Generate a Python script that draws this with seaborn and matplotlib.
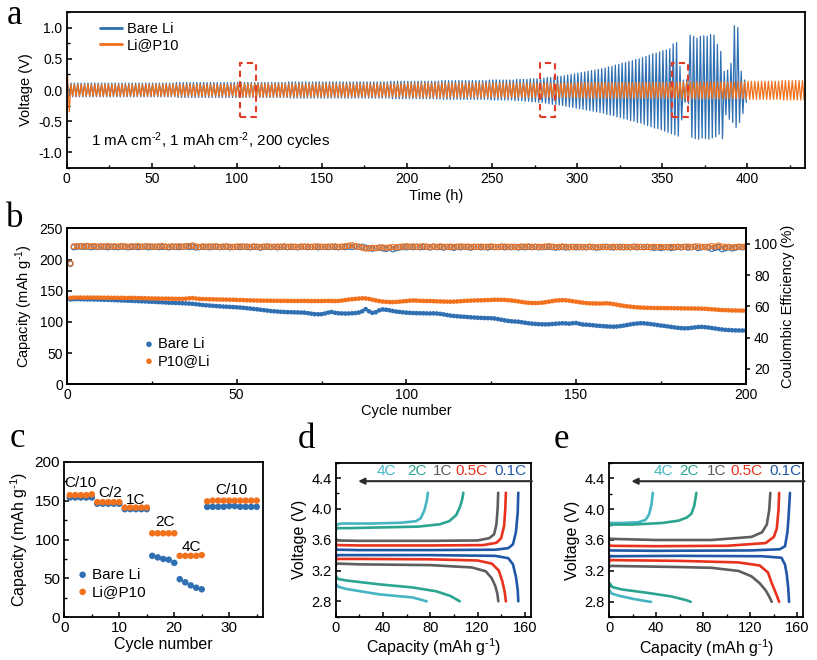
import numpy as np
import matplotlib
matplotlib.use('Agg')
import matplotlib.pyplot as plt
import seaborn as sns
from matplotlib.patches import Rectangle
from matplotlib.ticker import MultipleLocator, FormatStrFormatter

BLUE = '#2f70b3'
ORANGE = '#f2711c'

# ---------------- panel a: peak voltage of each cycle (V), 2 h per cycle ----------------
bare_up = [
    0.10, 0.11, 0.11, 0.11, 0.11, 0.11, 0.11, 0.11, 0.11, 0.11,
    0.11, 0.11, 0.11, 0.11, 0.11, 0.11, 0.11, 0.11, 0.11, 0.11,
    0.11, 0.11, 0.11, 0.11, 0.11, 0.11, 0.11, 0.11, 0.11, 0.11,
    0.11, 0.11, 0.12, 0.12, 0.12, 0.12, 0.12, 0.12, 0.12, 0.12,
    0.12, 0.12, 0.12, 0.12, 0.12, 0.12, 0.12, 0.12, 0.12, 0.12,
    0.12, 0.12, 0.12, 0.12, 0.12, 0.12, 0.12, 0.12, 0.12, 0.12,
    0.12, 0.12, 0.12, 0.12, 0.12, 0.13, 0.13, 0.13, 0.13, 0.13,
    0.13, 0.13, 0.13, 0.13, 0.13, 0.13, 0.13, 0.13, 0.13, 0.13,
    0.13, 0.13, 0.13, 0.13, 0.13, 0.13, 0.13, 0.13, 0.13, 0.13,
    0.13, 0.13, 0.13, 0.13, 0.13, 0.14, 0.14, 0.14, 0.14, 0.14,
    0.14, 0.14, 0.14, 0.14, 0.14, 0.14, 0.14, 0.14, 0.14, 0.14,
    0.15, 0.15, 0.15, 0.15, 0.15, 0.15, 0.15, 0.15, 0.15, 0.15,
    0.15, 0.15, 0.15, 0.15, 0.16, 0.16, 0.16, 0.16, 0.16, 0.16,
    0.16, 0.16, 0.17, 0.17, 0.17, 0.17, 0.18, 0.18, 0.18, 0.19,
    0.19, 0.20, 0.20, 0.21, 0.22, 0.22, 0.23, 0.24, 0.25, 0.26,
    0.27, 0.28, 0.29, 0.30, 0.31, 0.32, 0.33, 0.34, 0.35, 0.37,
    0.38, 0.40, 0.41, 0.43, 0.44, 0.46, 0.47, 0.49, 0.50, 0.52,
    0.54, 0.56, 0.58, 0.59, 0.61, 0.63, 0.64, 0.66, 0.74, 0.76,
    0.38, 0.16, 0.17, 0.88, 0.86, 0.83, 0.86, 0.87, 0.86, 0.89,
    0.88, 0.73, 0.62, 0.30, 0.32, 0.43, 1.03, 1.00, 0.30, 0.16,
]
bare_low = [
    -0.10, -0.11, -0.11, -0.11, -0.11, -0.11, -0.11, -0.11, -0.11, -0.11,
    -0.11, -0.11, -0.11, -0.11, -0.11, -0.11, -0.11, -0.11, -0.11, -0.11,
    -0.11, -0.11, -0.11, -0.11, -0.11, -0.11, -0.11, -0.11, -0.11, -0.11,
    -0.11, -0.11, -0.12, -0.12, -0.12, -0.12, -0.12, -0.12, -0.12, -0.12,
    -0.12, -0.12, -0.12, -0.12, -0.12, -0.12, -0.12, -0.12, -0.12, -0.12,
    -0.12, -0.12, -0.12, -0.12, -0.12, -0.12, -0.12, -0.12, -0.12, -0.12,
    -0.12, -0.12, -0.12, -0.12, -0.12, -0.13, -0.13, -0.13, -0.13, -0.13,
    -0.13, -0.13, -0.13, -0.13, -0.13, -0.13, -0.13, -0.13, -0.13, -0.13,
    -0.13, -0.13, -0.13, -0.13, -0.13, -0.13, -0.13, -0.13, -0.13, -0.13,
    -0.13, -0.13, -0.13, -0.13, -0.13, -0.14, -0.14, -0.14, -0.14, -0.14,
    -0.14, -0.14, -0.14, -0.14, -0.14, -0.14, -0.14, -0.14, -0.14, -0.14,
    -0.15, -0.15, -0.15, -0.15, -0.15, -0.15, -0.15, -0.15, -0.15, -0.15,
    -0.15, -0.15, -0.15, -0.15, -0.16, -0.16, -0.16, -0.16, -0.16, -0.16,
    -0.16, -0.17, -0.17, -0.17, -0.18, -0.18, -0.19, -0.19, -0.20, -0.20,
    -0.21, -0.22, -0.23, -0.23, -0.24, -0.25, -0.26, -0.27, -0.28, -0.29,
    -0.30, -0.31, -0.32, -0.33, -0.34, -0.35, -0.36, -0.37, -0.39, -0.40,
    -0.41, -0.43, -0.44, -0.46, -0.47, -0.49, -0.50, -0.52, -0.53, -0.55,
    -0.57, -0.59, -0.61, -0.62, -0.64, -0.66, -0.68, -0.70, -0.72, -0.74,
    -0.48, -0.20, -0.22, -0.76, -0.78, -0.79, -0.77, -0.78, -0.79, -0.77,
    -0.75, -0.71, -0.78, -0.40, -0.47, -0.52, -0.60, -0.52, -0.38, -0.20,
]
p10_up = [
    0.22, 0.09, 0.09, 0.09, 0.09, 0.09, 0.09, 0.09, 0.09, 0.09,
    0.09, 0.09, 0.09, 0.09, 0.09, 0.09, 0.09, 0.09, 0.09, 0.09,
    0.09, 0.09, 0.09, 0.09, 0.09, 0.09, 0.09, 0.09, 0.09, 0.09,
    0.09, 0.09, 0.09, 0.09, 0.09, 0.09, 0.09, 0.09, 0.09, 0.09,
    0.09, 0.09, 0.09, 0.09, 0.09, 0.09, 0.09, 0.09, 0.09, 0.09,
    0.10, 0.10, 0.10, 0.10, 0.10, 0.10, 0.10, 0.10, 0.10, 0.10,
    0.10, 0.10, 0.10, 0.10, 0.10, 0.10, 0.10, 0.10, 0.10, 0.10,
    0.10, 0.10, 0.10, 0.10, 0.10, 0.10, 0.10, 0.10, 0.10, 0.10,
    0.10, 0.10, 0.10, 0.10, 0.10, 0.10, 0.10, 0.10, 0.10, 0.10,
    0.10, 0.10, 0.10, 0.10, 0.10, 0.10, 0.10, 0.10, 0.10, 0.10,
    0.11, 0.11, 0.11, 0.11, 0.11, 0.11, 0.11, 0.11, 0.11, 0.11,
    0.11, 0.11, 0.11, 0.11, 0.11, 0.11, 0.11, 0.11, 0.11, 0.11,
    0.11, 0.11, 0.11, 0.11, 0.11, 0.11, 0.11, 0.11, 0.11, 0.11,
    0.11, 0.11, 0.11, 0.11, 0.11, 0.11, 0.11, 0.11, 0.11, 0.11,
    0.11, 0.11, 0.11, 0.11, 0.11, 0.11, 0.11, 0.11, 0.11, 0.11,
    0.12, 0.12, 0.12, 0.12, 0.12, 0.12, 0.12, 0.12, 0.12, 0.12,
    0.12, 0.12, 0.12, 0.12, 0.12, 0.12, 0.12, 0.12, 0.12, 0.12,
    0.12, 0.12, 0.12, 0.12, 0.12, 0.12, 0.12, 0.12, 0.12, 0.12,
    0.13, 0.13, 0.13, 0.13, 0.13, 0.13, 0.13, 0.13, 0.13, 0.13,
    0.13, 0.13, 0.13, 0.13, 0.13, 0.13, 0.13, 0.13, 0.13, 0.13,
    0.14, 0.14, 0.14, 0.14, 0.14, 0.14, 0.14, 0.14, 0.14, 0.14,
    0.15, 0.15, 0.15, 0.15, 0.15, 0.15, 0.15,
]
p10_low = [
    -0.35, -0.10, -0.10, -0.10, -0.10, -0.10, -0.10, -0.10, -0.10, -0.10,
    -0.10, -0.10, -0.10, -0.10, -0.10, -0.10, -0.10, -0.10, -0.10, -0.10,
    -0.10, -0.10, -0.10, -0.10, -0.10, -0.10, -0.10, -0.10, -0.10, -0.10,
    -0.10, -0.10, -0.10, -0.10, -0.10, -0.10, -0.10, -0.10, -0.10, -0.10,
    -0.10, -0.10, -0.10, -0.10, -0.10, -0.10, -0.10, -0.10, -0.10, -0.10,
    -0.11, -0.11, -0.11, -0.11, -0.11, -0.11, -0.11, -0.11, -0.11, -0.11,
    -0.11, -0.11, -0.11, -0.11, -0.11, -0.11, -0.11, -0.11, -0.11, -0.11,
    -0.11, -0.11, -0.11, -0.11, -0.11, -0.11, -0.11, -0.11, -0.11, -0.11,
    -0.11, -0.11, -0.11, -0.11, -0.11, -0.11, -0.11, -0.11, -0.11, -0.11,
    -0.11, -0.11, -0.11, -0.11, -0.11, -0.11, -0.11, -0.11, -0.11, -0.11,
    -0.12, -0.12, -0.12, -0.12, -0.12, -0.12, -0.12, -0.12, -0.12, -0.12,
    -0.12, -0.12, -0.12, -0.12, -0.12, -0.12, -0.12, -0.12, -0.12, -0.12,
    -0.12, -0.12, -0.12, -0.12, -0.12, -0.12, -0.12, -0.12, -0.12, -0.12,
    -0.12, -0.12, -0.12, -0.12, -0.12, -0.12, -0.12, -0.12, -0.12, -0.12,
    -0.12, -0.12, -0.12, -0.12, -0.12, -0.12, -0.12, -0.12, -0.12, -0.12,
    -0.13, -0.13, -0.13, -0.13, -0.13, -0.13, -0.13, -0.13, -0.13, -0.13,
    -0.13, -0.13, -0.13, -0.13, -0.13, -0.13, -0.13, -0.13, -0.13, -0.13,
    -0.13, -0.13, -0.13, -0.13, -0.13, -0.13, -0.13, -0.13, -0.13, -0.13,
    -0.14, -0.14, -0.14, -0.14, -0.14, -0.14, -0.14, -0.14, -0.14, -0.14,
    -0.14, -0.14, -0.14, -0.14, -0.14, -0.14, -0.14, -0.14, -0.14, -0.14,
    -0.15, -0.15, -0.15, -0.15, -0.15, -0.15, -0.15, -0.15, -0.15, -0.15,
    -0.16, -0.16, -0.16, -0.16, -0.16, -0.16, -0.16,
]
box_start_h = [102, 278, 356]   # dashed boxes, 9 h wide, +-0.43 V
hours_per_cycle = 2

# ---------------- panel b: cycling at 1C ----------------
bare_cap = [
    136.0, 136.3, 136.5, 136.4, 136.2, 136.0, 136.1, 135.9, 135.8, 135.6,
    135.4, 135.3, 135.1, 134.9, 134.6, 134.4, 134.2, 133.9, 133.7, 133.5,
    133.2, 133.0, 132.8, 132.5, 132.3, 132.0, 131.7, 131.4, 131.1, 130.8,
    130.6, 130.4, 130.2, 129.9, 129.6, 129.3, 129.0, 128.4, 127.8, 127.1,
    126.6, 126.2, 125.8, 125.4, 125.0, 124.6, 124.3, 124.0, 123.7, 123.4,
    123.0, 122.5, 122.0, 121.4, 120.8, 120.2, 119.5, 118.9, 118.2, 117.5,
    117.0, 116.6, 116.2, 115.9, 115.6, 115.5, 115.3, 115.2, 115.0, 114.8,
    114.0, 113.2, 112.4, 112.2, 112.4, 113.5, 115.0, 115.8, 114.6, 113.8,
    113.6, 113.4, 113.5, 113.8, 114.2, 115.0, 117.0, 120.5, 117.0, 114.5,
    115.5, 118.5, 120.0, 119.5, 118.6, 117.5, 116.5, 116.0, 115.3, 114.8,
    114.5, 114.2, 114.0, 113.9, 113.8, 113.6, 113.5, 113.7, 113.4, 112.8,
    112.0, 111.0, 110.1, 109.5, 109.0, 108.6, 108.2, 107.8, 107.4, 107.0,
    106.7, 106.4, 106.2, 106.0, 105.9, 105.5, 104.5, 103.5, 102.5, 101.6,
    101.0, 100.6, 100.3, 99.5, 98.6, 97.8, 97.2, 96.8, 96.4, 96.2,
    96.0, 96.2, 96.6, 97.0, 97.4, 97.8, 97.6, 97.2, 97.9, 98.2,
    97.0, 95.8, 95.5, 95.2, 94.6, 94.0, 93.6, 93.2, 92.8, 92.5,
    92.3, 92.6, 93.2, 94.0, 95.0, 96.0, 96.8, 97.4, 97.9, 97.7,
    97.2, 96.5, 95.8, 95.0, 94.2, 93.5, 92.8, 92.0, 91.2, 90.5,
    90.0, 89.7, 89.9, 90.5, 91.2, 91.8, 92.0, 91.6, 91.0, 90.2,
    89.4, 88.6, 87.9, 87.3, 86.9, 86.6, 86.4, 86.3, 86.2, 86.2,
]
p10_cap = [
    138.5, 138.8, 139.0, 139.0, 138.9, 138.9, 139.0, 138.8, 138.9, 138.8,
    138.7, 138.8, 138.6, 138.7, 138.5, 138.6, 138.4, 138.4, 138.5, 138.3,
    138.2, 138.0, 137.9, 137.7, 137.6, 137.5, 137.4, 137.3, 137.3, 137.2,
    137.1, 137.0, 137.0, 136.9, 137.2, 137.8, 138.2, 137.4, 136.9, 136.6,
    136.5, 136.3, 136.2, 136.0, 135.9, 135.8, 135.7, 135.6, 135.5, 135.3,
    135.1, 134.9, 134.7, 134.5, 134.3, 134.2, 134.1, 134.0, 134.0, 133.9,
    133.8, 133.8, 133.7, 133.7, 133.6, 133.6, 133.5, 133.5, 133.6, 133.6,
    133.5, 133.4, 133.4, 133.5, 133.4, 133.6, 133.6, 133.5, 133.4, 133.6,
    134.2, 135.0, 135.8, 136.4, 136.9, 137.4, 137.8, 137.6, 136.8, 135.6,
    134.5, 133.4, 132.6, 132.1, 131.8, 131.8, 132.0, 132.4, 133.0, 133.5,
    134.0, 134.3, 134.1, 133.8, 133.6, 133.4, 133.5, 133.2, 133.0, 132.8,
    132.6, 132.5, 132.4, 132.5, 132.8, 133.2, 133.6, 133.9, 134.1, 134.3,
    134.5, 134.6, 134.8, 135.0, 135.2, 135.4, 135.5, 135.4, 135.2, 134.8,
    134.3, 133.6, 132.8, 132.0, 131.2, 130.6, 130.3, 130.2, 130.4, 130.8,
    131.5, 132.4, 133.4, 134.2, 134.6, 134.8, 134.6, 134.0, 133.2, 132.4,
    131.6, 130.8, 130.2, 129.8, 129.6, 129.5, 129.4, 129.6, 129.8, 129.4,
    128.6, 127.6, 126.6, 125.8, 125.0, 124.4, 123.8, 123.4, 123.0, 122.8,
    122.6, 122.4, 122.3, 122.2, 122.2, 122.1, 122.0, 122.0, 121.9, 121.8,
    121.7, 121.6, 121.6, 121.5, 121.4, 121.4, 121.2, 121.0, 120.6, 120.2,
    119.8, 119.4, 119.0, 118.8, 118.6, 118.4, 118.3, 118.2, 118.1, 118.0,
]
bare_ce = [
    87.2, 97.8, 98.2, 98.4, 98.1, 98.3, 97.9, 98.2, 98.0, 98.3,
    98.1, 97.8, 98.2, 98.0, 97.9, 98.3, 98.1, 97.8, 98.0, 98.2,
    97.9, 98.1, 98.3, 97.8, 98.0, 98.2, 97.9, 98.1, 98.0, 97.8,
    98.2, 98.0, 97.9, 98.1, 98.3, 98.0, 98.2, 97.7, 97.9, 98.1,
    98.0, 97.8, 98.1, 98.2, 97.9, 98.0, 98.2, 97.8, 98.0, 98.1,
    97.9, 98.2, 98.0, 97.8, 98.1, 98.0, 97.6, 98.0, 98.2, 97.9,
    98.1, 97.8, 98.0, 98.2, 97.9, 98.1, 98.0, 97.8, 98.1, 98.2,
    97.9, 98.0, 98.2, 97.8, 98.0, 98.1, 97.9, 98.2, 98.0, 97.8,
    98.1, 97.9, 98.2, 98.0, 98.3, 98.1, 98.2, 97.6, 97.2, 96.9,
    97.3, 97.6, 97.1, 96.8, 97.4, 96.6, 97.2, 97.7, 98.0, 97.8,
    98.1, 97.9, 98.2, 97.8, 98.0, 98.1, 97.7, 98.3, 97.9, 98.0,
    97.6, 98.1, 97.9, 97.5, 98.0, 97.8, 98.1, 97.9, 97.6, 98.0,
    98.1, 97.8, 98.0, 97.7, 98.1, 97.9, 98.0, 98.2, 97.8, 98.0,
    97.9, 98.1, 97.7, 98.0, 97.8, 98.1, 97.9, 98.2, 97.8, 97.9,
    98.0, 98.2, 97.9, 97.6, 97.8, 98.0, 97.7, 97.9, 98.1, 97.8,
    97.9, 98.0, 97.8, 98.1, 97.9, 97.6, 97.8, 98.0, 98.2, 97.9,
    97.7, 98.0, 98.1, 97.8, 98.0, 97.9, 98.2, 97.8, 98.0, 97.9,
    98.1, 97.8, 97.5, 97.9, 97.3, 97.8, 98.0, 97.4, 97.7, 98.0,
    97.8, 98.1, 97.6, 97.9, 98.2, 97.3, 97.8, 98.0, 97.7, 96.8,
    97.4, 97.9, 96.6, 97.2, 97.8, 97.1, 97.6, 98.0, 97.8, 97.9,
]
p10_ce = [
    87.6, 98.4, 98.6, 98.3, 98.5, 98.7, 98.4, 98.6, 98.3, 98.5,
    98.4, 98.6, 98.2, 98.5, 98.3, 98.6, 98.4, 98.2, 98.5, 98.3,
    98.6, 98.2, 98.4, 98.5, 98.3, 98.1, 98.4, 98.6, 98.3, 98.2,
    98.4, 98.3, 98.5, 98.2, 98.4, 98.6, 99.0, 98.3, 98.1, 98.4,
    98.2, 98.4, 98.3, 98.5, 98.1, 98.3, 98.4, 98.2, 98.0, 98.3,
    98.4, 98.2, 98.3, 98.1, 98.4, 98.2, 98.0, 98.3, 98.4, 98.2,
    98.1, 98.3, 98.2, 98.4, 98.1, 98.3, 98.2, 98.0, 98.3, 98.2,
    98.3, 98.1, 98.2, 98.4, 98.2, 98.1, 98.3, 98.2, 98.4, 98.1,
    98.2, 98.5, 98.8, 99.2, 98.6, 98.2, 97.6, 97.0, 97.2, 97.5,
    97.4, 97.6, 97.8, 97.5, 97.7, 98.0, 97.8, 98.1, 98.3, 98.5,
    98.2, 98.4, 98.1, 98.3, 98.5, 98.2, 98.0, 98.3, 98.1, 98.4,
    98.2, 98.0, 98.3, 98.1, 98.2, 98.4, 98.1, 98.3, 98.0, 98.2,
    98.1, 98.3, 98.0, 98.2, 98.4, 98.1, 98.0, 98.2, 98.3, 98.1,
    98.2, 98.0, 98.1, 98.3, 98.2, 98.4, 98.1, 98.0, 98.2, 98.1,
    98.3, 98.5, 98.2, 98.0, 98.1, 98.3, 98.2, 97.9, 98.0, 98.2,
    98.1, 97.9, 98.0, 98.2, 98.1, 97.8, 98.0, 98.1, 97.9, 98.0,
    98.2, 98.0, 97.8, 98.1, 98.0, 97.9, 98.1, 98.2, 98.0, 97.9,
    98.1, 98.0, 98.2, 97.9, 98.1, 98.0, 97.8, 98.1, 98.0, 98.2,
    97.9, 98.1, 98.3, 98.0, 98.2, 98.4, 98.1, 98.0, 98.2, 98.6,
    98.2, 98.9, 98.3, 98.0, 98.1, 97.8, 98.0, 98.2, 98.1, 98.3,
]

# ---------------- panel c: rate capability ----------------
rate_cycles = list(range(1, 36))
rate_bare = [154, 154, 154, 154, 154, 146, 146, 146, 146, 146,
             139, 139, 139, 139, 139, 79, 77, 75, 74, 70,
             49, 45, 41, 38, 36, 142, 142, 142, 142, 143,
             143, 142, 142, 142, 142]
rate_p10 = [157, 157, 157, 157, 158, 148, 148, 148, 148, 148,
            141, 141, 141, 141, 141, 108, 108, 108, 108, 108,
            79, 79, 79, 79, 80, 149, 150, 150, 150, 150,
            150, 150, 150, 150, 150]
rate_names = ['C/10', 'C/2', '1C', '2C', '4C', 'C/10']
rate_name_xy = [(2.9, 172), (8.3, 160), (12.9, 151), (18.3, 122), (23.2, 91), (30.4, 163)]

# ---------------- panels d / e: charge-discharge curves (capacity, V) ----------------
curve_rates = ['4C', '2C', '1C', '0.5C', '0.1C']
curve_colors = ['#45b5c4', '#2ba58f', '#5e5e5e', '#e8321e', '#2058a8']
label_x_d = [43, 68.5, 90.5, 115, 147.5]
label_x_e = [46, 68, 91, 117, 150]

d_4c_chg = [(0, 3.76), (1, 3.80), (5, 3.81), (30, 3.81), (55, 3.82), (68, 3.84),
            (72, 3.88), (75, 3.98), (77, 4.10), (78, 4.21)]
d_4c_dis = [(0, 3.03), (2, 2.99), (9, 2.96), (37, 2.89), (65, 2.85), (77, 2.80)]
d_2c_chg = [(0, 3.72), (1, 3.75), (10, 3.75), (40, 3.76), (70, 3.77), (88, 3.80),
            (96, 3.84), (102, 3.92), (105, 4.02), (107, 4.12), (108, 4.21)]
d_2c_dis = [(0, 3.13), (2, 3.09), (9, 3.07), (37, 3.02), (65, 2.98), (85, 2.93),
            (97, 2.87), (105, 2.80)]
d_1c_chg = [(0, 3.62), (1, 3.59), (20, 3.585), (80, 3.585), (120, 3.59), (130, 3.62),
            (134, 3.67), (136, 3.80), (137, 4.0), (137.5, 4.21)]
d_1c_dis = [(0, 3.26), (1, 3.29), (20, 3.28), (80, 3.27), (115, 3.24), (127, 3.19),
            (132, 3.10), (135, 3.00), (136.8, 2.90), (137.6, 2.80)]
d_05c_chg = [(0, 3.56), (1, 3.53), (20, 3.525), (80, 3.525), (125, 3.53), (136, 3.56),
             (140, 3.62), (142.5, 3.78), (143.5, 4.0), (144, 4.21)]
d_05c_dis = [(0, 3.32), (1, 3.35), (20, 3.35), (80, 3.345), (120, 3.33), (132, 3.29),
             (138, 3.20), (141, 3.06), (143, 2.92), (144, 2.80)]
d_01c_chg = [(0, 3.50), (1, 3.47), (20, 3.465), (80, 3.465), (135, 3.47), (146, 3.49),
             (150, 3.54), (152.5, 3.70), (154, 3.95), (154.5, 4.21)]
d_01c_dis = [(0, 3.37), (1, 3.40), (20, 3.40), (80, 3.40), (135, 3.39), (146, 3.36),
             (150, 3.28), (152.5, 3.12), (154, 2.95), (154.5, 2.80)]

e_4c_chg = [(0, 3.80), (1, 3.82), (10, 3.82), (25, 3.83), (31, 3.86), (34, 3.93),
            (36, 4.05), (37.2, 4.21)]
e_4c_dis = [(0, 2.96), (2, 2.91), (8, 2.88), (20, 2.84), (31, 2.81), (35.7, 2.80)]
e_2c_chg = [(0, 3.78), (1, 3.80), (20, 3.80), (45, 3.82), (59, 3.85), (66, 3.89),
            (70, 3.94), (72.5, 4.05), (74.2, 4.21)]
e_2c_dis = [(0, 3.05), (3, 2.99), (11, 2.96), (31, 2.92), (53, 2.87), (66, 2.82),
            (69.4, 2.80)]
e_1c_chg = [(0, 3.63), (1, 3.615), (40, 3.60), (87, 3.60), (121, 3.64), (130, 3.70),
            (134, 3.80), (136, 3.98), (137, 4.21)]
e_1c_dis = [(0, 3.24), (1, 3.265), (60, 3.25), (87, 3.24), (110, 3.20), (121, 3.13),
            (128, 3.04), (133, 2.95), (136, 2.87), (138.2, 2.80)]
e_05c_chg = [(0, 3.55), (1, 3.525), (40, 3.52), (100, 3.525), (133, 3.56), (140, 3.64),
             (142.5, 3.75), (144, 4.0), (144.5, 4.21)]
e_05c_dis = [(0, 3.31), (1, 3.34), (60, 3.33), (110, 3.31), (128, 3.27), (135, 3.18),
             (138, 3.05), (141.5, 2.92), (144.5, 2.80)]
e_01c_chg = [(0, 3.48), (1, 3.465), (40, 3.46), (120, 3.465), (145, 3.48), (149.5, 3.52),
             (151.5, 3.70), (152.5, 3.90), (153.7, 4.21)]
e_01c_dis = [(0, 3.37), (1, 3.39), (60, 3.395), (130, 3.39), (146.5, 3.37), (149.5, 3.28),
             (151, 3.15), (152.2, 2.98), (152.9, 2.80)]

curves_d = [(d_4c_chg, d_4c_dis), (d_2c_chg, d_2c_dis), (d_1c_chg, d_1c_dis),
            (d_05c_chg, d_05c_dis), (d_01c_chg, d_01c_dis)]
curves_e = [(e_4c_chg, e_4c_dis), (e_2c_chg, e_2c_dis), (e_1c_chg, e_1c_dis),
            (e_05c_chg, e_05c_dis), (e_01c_chg, e_01c_dis)]

# ---------------- style ----------------
sns.set_theme(style='ticks')
plt.rcParams['font.family'] = ['Liberation Sans', 'DejaVu Sans']
plt.rcParams.update({
    'mathtext.fontset': 'custom',
    'mathtext.rm': 'Liberation Sans',
    'mathtext.it': 'Liberation Sans:italic',
    'mathtext.bf': 'Liberation Sans:bold',
    'mathtext.default': 'regular',
    'axes.unicode_minus': False,
    'axes.linewidth': 1.3,
    'axes.edgecolor': 'black',
    'axes.labelcolor': 'black',
    'text.color': 'black',
    'xtick.color': 'black', 'ytick.color': 'black',
    'xtick.direction': 'in', 'ytick.direction': 'in',
    'xtick.major.size': 3.5, 'ytick.major.size': 3.5,
    'xtick.minor.size': 2.0, 'ytick.minor.size': 2.0,
    'xtick.major.width': 1.1, 'ytick.major.width': 1.1,
    'xtick.minor.width': 1.0, 'ytick.minor.width': 1.0,
    'xtick.major.pad': 3, 'ytick.major.pad': 3,
})

W, H = 817, 660
fig = plt.figure(figsize=(W / 100, H / 100), dpi=100)
INV = 'g$^{\u2010' + '1}$'   # short hyphen in the superscript, as in the original


def box(left, top, right, bottom):
    return [left / W, 1 - bottom / H, (right - left) / W, (bottom - top) / H]


# ---------------- a ----------------
ax = fig.add_axes(box(66.7, 12, 805, 168))
k = np.arange(len(bare_up))
t_bare = np.column_stack([hours_per_cycle * k + 0.5, hours_per_cycle * k + 1.5]).ravel()
v_bare = np.column_stack([bare_up, bare_low]).ravel()
k = np.arange(len(p10_up))
t_p10 = np.column_stack([hours_per_cycle * k + 0.5, hours_per_cycle * k + 1.5]).ravel()
v_p10 = np.column_stack([p10_up, p10_low]).ravel()
sns.lineplot(x=t_bare, y=v_bare, ax=ax, color=BLUE, lw=0.9, estimator=None, sort=False,
             label='Bare Li', legend=False)
sns.lineplot(x=t_p10, y=v_p10, ax=ax, color=ORANGE, lw=0.9, estimator=None, sort=False,
             label='Li@P10', legend=False)
for t0 in box_start_h:
    ax.add_patch(Rectangle((t0, -0.43), 9, 0.86, fill=False, ls=(0, (3, 2)),
                           ec='#e23b26', lw=1.5, zorder=5))
ax.set_xlim(0, 434)
ax.set_ylim(-1.25, 1.25)
ax.xaxis.set_major_locator(MultipleLocator(50))
ax.xaxis.set_minor_locator(MultipleLocator(25))
ax.yaxis.set_major_locator(MultipleLocator(0.5))
ax.yaxis.set_minor_locator(MultipleLocator(0.25))
ax.yaxis.set_major_formatter(FormatStrFormatter('%.1f'))
ax.tick_params(labelsize=10)
ax.set_xlabel('Time (h)', fontsize=10.5, labelpad=2)
ax.set_ylabel('Voltage (V)', fontsize=10.5, labelpad=4)
ax.text(14, -0.82, '1 mA cm$^{\u20102}$, 1 mAh cm$^{\u20102}$, 200 cycles',
        fontsize=11, va='center')
leg = ax.legend(loc='upper left', bbox_to_anchor=(0.028, 1.02), frameon=False, fontsize=10.5,
                handlelength=1.5, handletextpad=0.3, labelspacing=0.15)
for ln in leg.get_lines():
    ln.set_linewidth(2.0)

# ---------------- b ----------------
ax = fig.add_axes(box(67, 228.3, 745.7, 384.3))
ax2 = ax.twinx()
cyc = np.arange(1, len(bare_cap) + 1)
sns.scatterplot(x=cyc, y=bare_cap, ax=ax, color=BLUE, s=11, edgecolor='none',
                label='Bare Li', legend=False, zorder=3)
sns.scatterplot(x=cyc, y=p10_cap, ax=ax, color=ORANGE, s=11, edgecolor='none',
                label='P10@Li', legend=False, zorder=3)
sns.scatterplot(x=cyc, y=bare_ce, ax=ax2, color=BLUE, s=14, facecolor='none',
                edgecolor=BLUE, linewidth=0.8, legend=False)
sns.scatterplot(x=cyc, y=p10_ce, ax=ax2, color=ORANGE, s=14, facecolor='none',
                edgecolor=ORANGE, linewidth=0.8, legend=False)
ax.set_xlim(0, 200)
ax.set_ylim(0, 250)
ax2.set_ylim(10, 110)
ax.xaxis.set_major_locator(MultipleLocator(50))
ax.xaxis.set_minor_locator(MultipleLocator(25))
ax.yaxis.set_major_locator(MultipleLocator(50))
ax2.yaxis.set_major_locator(MultipleLocator(20))
ax.tick_params(labelsize=10)
ax2.tick_params(labelsize=10, direction='out', length=3)
ax.set_xlabel('Cycle number', fontsize=10.5, labelpad=1)
ax.set_ylabel('Capacity (mAh ' + INV + ')', fontsize=10.5, labelpad=3)
ax2.set_ylabel('Coulombic Efficiency (%)', fontsize=10.5, labelpad=3)
ax.legend(loc='lower left', bbox_to_anchor=(0.095, 0.02), frameon=False, fontsize=10.5,
          handlelength=0.6, handletextpad=0.3, labelspacing=0.2, markerscale=1.2)

# ---------------- c ----------------
ax = fig.add_axes(box(64.3, 461.7, 263.3, 617.3))
sns.scatterplot(x=rate_cycles, y=rate_bare, ax=ax, color=BLUE, s=22, edgecolor='none',
                label='Bare Li', legend=False)
sns.scatterplot(x=rate_cycles, y=rate_p10, ax=ax, color=ORANGE, s=22, edgecolor='none',
                label='Li@P10', legend=False)
for name, (x, y) in zip(rate_names, rate_name_xy):
    ax.text(x, y, name, fontsize=11, ha='center', va='center')
ax.set_xlim(0, 36.2)
ax.set_ylim(0, 200)
ax.xaxis.set_major_locator(MultipleLocator(10))
ax.xaxis.set_minor_locator(MultipleLocator(5))
ax.yaxis.set_major_locator(MultipleLocator(50))
ax.yaxis.set_minor_locator(MultipleLocator(25))
ax.tick_params(labelsize=11)
ax.set_xlabel('Cycle number', fontsize=11.5, labelpad=1)
ax.set_ylabel('Capacity (mAh ' + INV + ')', fontsize=11.5, labelpad=3)
ax.legend(loc='lower left', bbox_to_anchor=(0.0, 0.03), frameon=False, fontsize=11,
          handlelength=0.6, handletextpad=0.3, labelspacing=0.2)


# ---------------- d / e ----------------
def curve_panel(rect, curves, label_x):
    ax = fig.add_axes(rect)
    for (chg, dis), col in zip(curves, curve_colors):
        for seg in (chg, dis):
            cap = [p[0] for p in seg]
            v = [p[1] for p in seg]
            sns.lineplot(x=cap, y=v, ax=ax, color=col, lw=1.9, estimator=None,
                         sort=False, legend=False)
    for name, x, col in zip(curve_rates, label_x, curve_colors):
        ax.text(x, 4.49, name, color=col, fontsize=11, ha='center', va='center')
    ax.annotate('', xy=(19, 4.36), xytext=(166, 4.36),
                arrowprops=dict(arrowstyle='-|>', color='#2a2a2a', lw=1.5,
                                mutation_scale=9, shrinkA=0, shrinkB=0))
    ax.set_xlim(0, 165)
    ax.set_ylim(2.6, 4.6)
    ax.xaxis.set_major_locator(MultipleLocator(40))
    ax.xaxis.set_minor_locator(MultipleLocator(20))
    ax.yaxis.set_major_locator(MultipleLocator(0.4))
    ax.yaxis.set_minor_locator(MultipleLocator(0.2))
    ax.yaxis.set_major_formatter(FormatStrFormatter('%.1f'))
    ax.tick_params(labelsize=10.5)
    ax.set_xlabel('Capacity (mAh ' + INV + ')', fontsize=11.5, labelpad=1)
    ax.set_ylabel('Voltage (V)', fontsize=11.5, labelpad=3)
    return ax


curve_panel(box(335.7, 462.7, 530.7, 616.7), curves_d, label_x_d)
curve_panel(box(609, 462.7, 803.3, 617.3), curves_e, label_x_e)

# panel letters
for letter, x, y in [('a', 14.5, 24), ('b', 15, 227), ('c', 17.5, 447),
                     ('d', 306, 448), ('e', 561.5, 448)]:
    fig.text(x / W, 1 - y / H, letter, fontsize=25, family='Liberation Serif',
             ha='center', va='baseline')

fig.savefig('out.png', dpi=100)
